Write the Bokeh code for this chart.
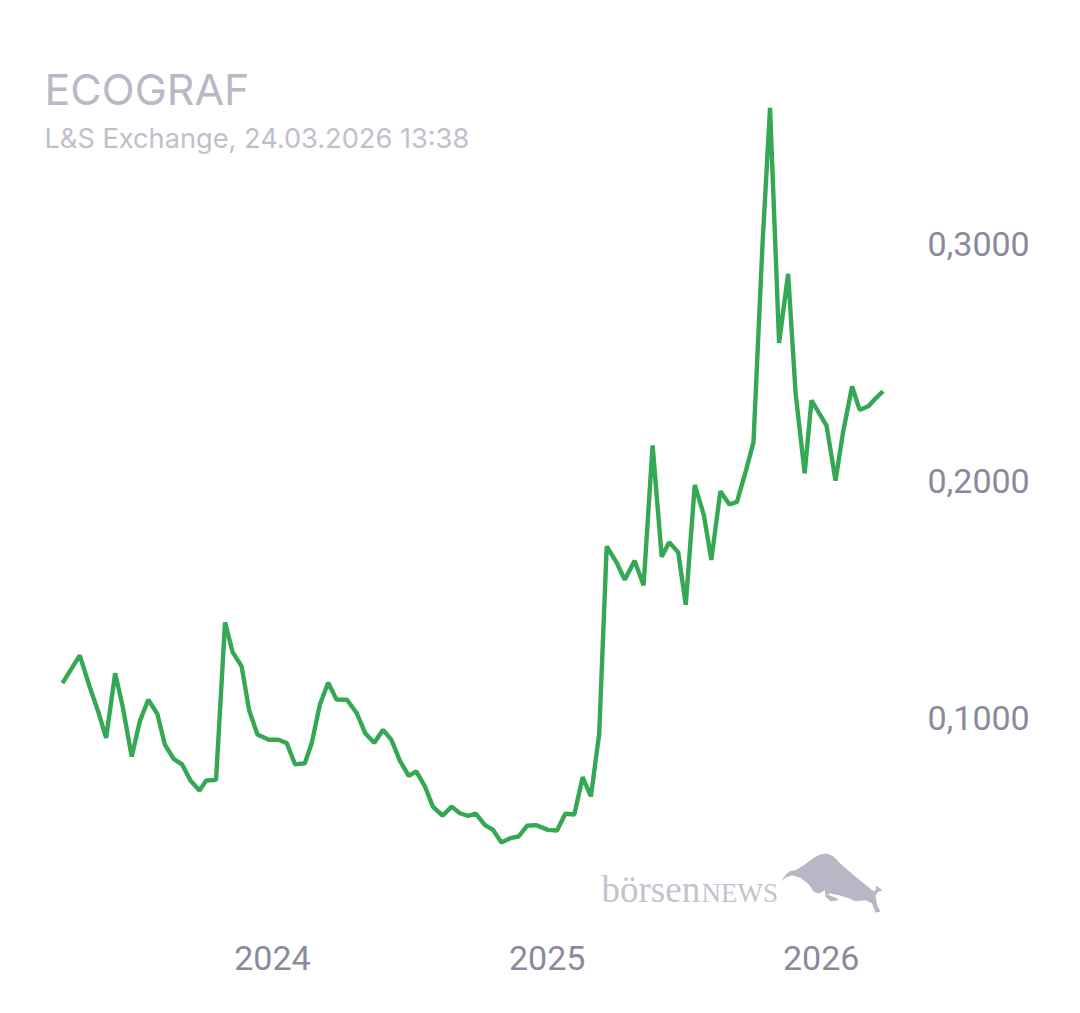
from bokeh.plotting import figure
from bokeh.models import Label, PolyAnnotation, FixedTicker, Range1d
from bokeh.embed import file_html
from bokeh.resources import INLINE

title_text = "ECOGRAF"
subtitle_text = "L&S Exchange, 24.03.2026 13:38"

# days relative to 2024-01-01
days = [-279,-256,-243,-232,-221,-209,-199,-187,-176,-165,-153,-143,-131,-120,-109,-97,-88,-75,-63,-53,
        -41,-31,-20,-5,8,19,30,43,52,63,74,85,99,112,123,135,147,158,169,181,
        191,203,213,226,238,249,260,270,282,293,304,316,327,338,350,366,378,389,401,412,
        423,434,444,457,468,481,493,505,517,527,539,549,561,573,583,595,607,617,629,639,
        651,661,673,685,695,707,716,726,736,748,758,770,780,792,801,811]
prices = [.1145,.1262,.1131,.1030,.0914,.1187,.1046,.0835,.0987,.1075,.1016,.0886,.0824,.0802,.0734,.0692,.0734,.0737,.1402,.1276,
          .1216,.1030,.0928,.0906,.0906,.0892,.0802,.0807,.0890,.1055,.1147,.1076,.1075,.1018,.0935,.0893,.0948,.0906,.0819,.0754,
          .0773,.0706,.0624,.0586,.0624,.0596,.0585,.0594,.0547,.0526,.0473,.0491,.0498,.0543,.0546,.0526,.0523,.0594,.0591,.0748,
          .0667,.0931,.1722,.1655,.1581,.1662,.1558,.2148,.1679,.1740,.1697,.1476,.1982,.1855,.1665,.1955,.1899,.1910,.2042,.2162,
          .2999,.3573,.2581,.2872,.2366,.2031,.2338,.2286,.2232,.2000,.2204,.2397,.2298,.2315,.2346,.2377]
x_tick_days = [0, 365, 729]
x_tick_labels = ["2024", "2025", "2026"]
y_ticks = [0.1, 0.2, 0.3]
y_tick_labels = ["0,1000", "0,2000", "0,3000"]

W, H = 1064, 997
FL, FT, FR, FB = 8, 8, 900, 922  # frame edges in canvas px

p = figure(width=W, height=H, output_backend="svg", toolbar_location=None,
           x_range=Range1d(-350.7, 834.3), y_range=Range1d(0.0135, 0.3992),
           y_axis_location="right", x_axis_location="below",
           min_border_left=FL, min_border_top=FT, min_border_right=W-FR, min_border_bottom=H-FB,
           background_fill_color="white", border_fill_color="white", outline_line_color=None)
p.grid.visible = False

for ax in (p.xaxis[0], p.yaxis[0]):
    ax.axis_line_color = None
    ax.major_tick_line_color = None
    ax.minor_tick_line_color = None
    ax.major_label_text_font = "Roboto"
    ax.major_label_text_font_size = "34px"
    ax.major_label_text_color = "#8a8a9c"
p.xaxis[0].ticker = FixedTicker(ticks=x_tick_days)
p.xaxis[0].major_label_overrides = dict(zip(x_tick_days, x_tick_labels))
p.xaxis[0].major_label_standoff = 17
p.yaxis[0].ticker = FixedTicker(ticks=y_ticks)
p.yaxis[0].major_label_overrides = dict(zip(y_ticks, y_tick_labels))
p.yaxis[0].major_label_standoff = 21

p.line(days, prices, line_color="#34a853", line_width=4.4, line_join="bevel", line_cap="butt")

p.add_layout(Label(x=36, y=860, x_units="screen", y_units="screen", text=title_text,
                   text_font="Inter", text_font_size="43px", text_color="#b9b9c6",
                   text_baseline="top"))
p.add_layout(Label(x=36, y=801, x_units="screen", y_units="screen", text=subtitle_text,
                   text_font="Inter", text_font_size="27.2px", text_color="#c0c0cc",
                   text_baseline="top"))

# logo
p.add_layout(Label(x=593, y=54, x_units="screen", y_units="screen", text="börsen",
                   text_font="Liberation Serif", text_font_size="37px", text_color="#c3c3ce",
                   text_baseline="top"))
p.add_layout(Label(x=693, y=45, x_units="screen", y_units="screen", text="NEWS",
                   text_font="Liberation Serif", text_font_size="27px", text_color="#c3c3ce",
                   text_baseline="top"))
bull = [(15,100),(30,80),(42,68),(60,65),(85,50),(115,28),(135,17),(155,15),(175,25),(200,50),(235,80),
        (265,105),(290,125),(300,128),(302,112),(322,125),(308,130),(300,142),(305,170),(315,190),(300,192),
        (290,165),(270,155),(240,158),(215,148),(190,140),(165,135),(155,138),(180,148),(190,155),(165,158),
        (150,145),(148,125),(130,135),(115,130),(100,108),(75,88),(50,80),(30,88)]
p.add_layout(PolyAnnotation(xs=[767+a/3 for a, b in bull], ys=[FB-(848+b/3) for a, b in bull],
                            xs_units="screen", ys_units="screen",
                            fill_color="#b7b7c5", fill_alpha=1, line_color=None))

open("out.html", "w").write(file_html(p, INLINE))
